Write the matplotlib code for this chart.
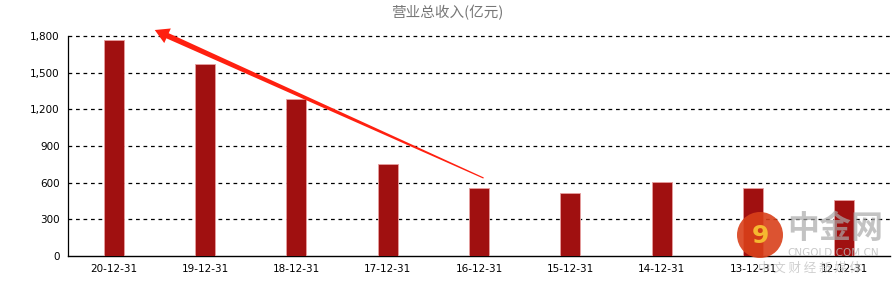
import matplotlib.pyplot as plt
from matplotlib.patches import Ellipse, Polygon
from matplotlib.ticker import FuncFormatter
import numpy as np

# 营业总收入, 亿元
dates = ['20-12-31', '19-12-31', '18-12-31', '17-12-31', '16-12-31',
         '15-12-31', '14-12-31', '13-12-31', '12-12-31']
revenue = [1765, 1571, 1285, 753, 559, 513, 608, 554, 458]
yticks = [0, 300, 600, 900, 1200, 1500, 1800]

plt.rcParams['font.family'] = ['DejaVu Sans', 'Noto Sans CJK SC']

W, H = 894, 285
fig = plt.figure(figsize=(W / 100, H / 100), dpi=100)
ax = fig.add_axes([68 / W, 29 / H, 822 / W, 220 / H])

x = range(len(dates))
ax.bar(x, revenue, width=0.22, color='#a01010', edgecolor='#e8a0a0', linewidth=0.6, zorder=3)

ax.set_xlim(-0.5, len(dates) - 0.5)
ax.set_ylim(0, 1800)
ax.set_xticks(list(x))
ax.set_xticklabels(dates, fontsize=7.5)
ax.set_yticks(yticks)
ax.yaxis.set_major_formatter(FuncFormatter(lambda v, p: f'{int(v):,}'))
ax.tick_params(axis='y', labelsize=7.5, length=0, pad=6)
ax.tick_params(axis='x', length=0, pad=6)

# dashed grid, no line at zero
for t in yticks[1:]:
    ax.axhline(t, color='black', linestyle=(0, (3, 3)), linewidth=0.9, zorder=1, clip_on=False)

for s in ['top', 'right']:
    ax.spines[s].set_visible(False)
ax.spines['left'].set_linewidth(0.9)
ax.spines['bottom'].set_linewidth(1.0)

fig.text(0.5, 0.955, '营业总收入(亿元)', ha='center', va='center', fontsize=10.5,
         color='#777777', family=['Noto Sans CJK SC', 'DejaVu Sans'])

# red hand-drawn arrow: thin tail at 16-12-31, widening toward a head above 20-12-31
fig.canvas.draw()
tail = ax.transData.transform((4.05, 638))
tip = ax.transData.transform((0.45, 1849))
d = (tip - tail) / np.linalg.norm(tip - tail)
n = np.array([-d[1], d[0]])
L = np.linalg.norm(tip - tail)
neck = tip - d * 14
pts = [tail + n * 0.6, neck + n * 2.8, neck + n * 8, tip,
       neck - n * 8, neck - n * 2.8, tail - n * 0.6]
pts = [fig.transFigure.inverted().transform(p) for p in pts]
fig.patches.append(Polygon(pts, closed=True, transform=fig.transFigure,
                           facecolor='#ff2010', edgecolor='none', zorder=5))

# watermark
fig.patches.append(Ellipse((760 / W, 1 - 235 / H), 46 / W, 46 / H, transform=fig.transFigure,
                           facecolor='#d9401a', edgecolor='none', alpha=0.9, zorder=6))
fig.text(760 / W, 1 - 236 / H, '9', ha='center', va='center', fontsize=18,
         color='#f5b830', fontweight='bold', zorder=7)
fig.text(835 / W, 1 - 229 / H, '中金网', ha='center', va='center', fontsize=23,
         color='#aaaaaa', alpha=0.7, fontweight='bold', family=['Noto Sans CJK SC'])
fig.text(833 / W, 1 - 253 / H, 'CNGOLD.COM.CN', ha='center', va='center', fontsize=7.5,
         color='#bbbbbb', alpha=0.8)
fig.text(810 / W, 1 - 268 / H, '中 文 财 经 新 媒 体', ha='center', va='center', fontsize=9,
         color='#bbbbbb', alpha=0.7, family=['Noto Sans CJK SC'])

fig.savefig('out.png', dpi=100)
